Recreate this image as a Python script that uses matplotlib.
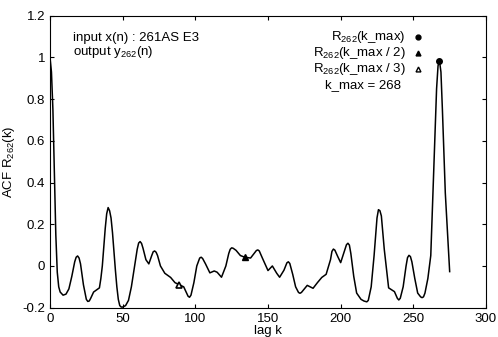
import numpy as np
import matplotlib
matplotlib.use("Agg")
import matplotlib.pyplot as plt

plt.rcParams['font.family'] = ['Liberation Sans', 'DejaVu Sans']
plt.rcParams['mathtext.fontset'] = 'custom'
plt.rcParams['mathtext.rm'] = 'Liberation Sans'
plt.rcParams['mathtext.default'] = 'regular'

# lag k and ACF values
lag = [0, 1, 2, 3, 4, 5, 6, 7, 9, 11, 13, 15, 17, 18, 19, 20, 21, 23, 25, 26,
       27, 28, 30, 32, 34, 35, 36, 37, 38, 39, 40, 41, 42, 43, 44, 45, 46, 47,
       48, 49, 50, 52, 54,
       56, 58, 60, 61, 62, 63, 64, 66, 68, 70, 71, 72, 73, 74, 76, 79, 83, 86,
       89, 92, 95, 96, 97, 99, 101, 103, 104, 105, 107, 110, 113, 115, 118,
       121, 123, 124, 125, 126, 128, 131, 134, 138, 141, 142, 143, 144, 146,
       150, 153, 156, 158, 161, 163, 164, 165, 167, 169, 171, 172, 173, 175,
       177, 179, 181, 184, 187, 190, 193, 194, 195, 196, 198, 200, 203, 204,
       205, 206, 207, 209, 211, 214, 216, 218, 219, 221, 223, 225, 226, 227,
       228, 230, 233, 237, 239, 240, 241, 243, 245, 246, 247, 248, 249, 251,
       253, 255, 256, 257, 258, 260, 262, 264, 266, 267, 268, 269, 270, 272,
       275]
acf = [1.0, 0.93, 0.75, 0.45, 0.15, -0.03, -0.10, -0.125, -0.14, -0.135,
       -0.11, -0.05, 0.02, 0.042, 0.048, 0.038, 0.01, -0.09, -0.16, -0.17,
       -0.168, -0.155, -0.125, -0.115, -0.105, -0.06, 0.0, 0.09, 0.18, 0.25,
       0.28, 0.265, 0.23, 0.16, 0.07, -0.02, -0.1, -0.16,
       -0.19, -0.197, -0.197, -0.19, -0.165, -0.10, -0.01,
       0.08, 0.11, 0.117, 0.108, 0.085, 0.03, 0.01, 0.05, 0.068, 0.072, 0.066,
       0.05, 0.0, -0.035, -0.055, -0.08, -0.09, -0.10, -0.145, -0.15, -0.14,
       -0.08, 0.0, 0.038, 0.042, 0.036, 0.01, -0.033, -0.024, -0.03, -0.054,
       0.0, 0.06, 0.08, 0.087, 0.085, 0.075, 0.05, 0.042, 0.038, 0.065, 0.074,
       0.077, 0.072, 0.04, -0.022, 0.0, -0.035, -0.054, -0.02, 0.015, 0.02,
       0.012, -0.04, -0.10, -0.127, -0.131, -0.127, -0.11, -0.093, -0.10,
       -0.107, -0.08, -0.055, -0.04, 0.03, 0.07, 0.081, 0.076, 0.045, 0.016,
       0.08, 0.102, 0.109, 0.1, 0.06, -0.05, -0.13, -0.16, -0.168, -0.172,
       -0.165, -0.1, 0.05, 0.23, 0.27, 0.265, 0.24, 0.08, -0.105, -0.123,
       -0.155, -0.163, -0.155, -0.1, 0.0, 0.04, 0.051, 0.045, 0.02, -0.06,
       -0.13, -0.148, -0.152, -0.148, -0.13, -0.06, 0.05, 0.45, 0.85, 0.96,
       0.983, 0.93, 0.75, 0.35, -0.027]

k_max = 268
xticks = [0, 50, 100, 150, 200, 250, 300]
yticks = [-0.2, 0, 0.2, 0.4, 0.6, 0.8, 1, 1.2]

fig = plt.figure(figsize=(4.98, 3.37), dpi=100)
ax = fig.add_axes([0.1004, 0.087, 0.8755, 0.8664])

ax.plot(lag, acf, color='black', lw=1.1, solid_joinstyle='round')

i1 = lag.index(k_max)
i2 = lag.index(k_max // 2)
i3 = lag.index(round(k_max / 3))
ax.plot(lag[i1], acf[i1], 'o', color='black', ms=4)
ax.plot(lag[i2], acf[i2], '^', color='black', ms=4)
ax.plot(lag[i3], acf[i3], '^', mfc='white', mec='black', mew=1.2, ms=4)

ax.set_xlim(0, 300)
ax.set_ylim(-0.2, 1.2)
ax.set_xticks(xticks)
ax.set_yticks(yticks)
ax.set_yticklabels(['%g' % v for v in yticks])
ax.tick_params(direction='in', top=True, right=True, labelsize=9.5, length=3)
ax.set_xlabel('lag k', fontsize=9.5, labelpad=0)
ax.set_ylabel('ACF R$_{262}$(k)', fontsize=9.5, labelpad=4)

fs = 9.5
ax.text(0.052, 0.925, 'input x(n) : 261AS E3', transform=ax.transAxes,
        fontsize=fs, va='center')
ax.text(0.052, 0.875, 'output y$_{262}$(n)', transform=ax.transAxes,
        fontsize=fs, va='center')

labels = ['R$_{262}$(k_max)', 'R$_{262}$(k_max / 2)', 'R$_{262}$(k_max / 3)']
rows = [0.927, 0.872, 0.817]
for lab, yy in zip(labels, rows):
    ax.text(0.8165, yy, lab, transform=ax.transAxes, fontsize=fs,
            ha='right', va='center')
ax.plot(0.844, rows[0], 'o', color='black', ms=3.5, transform=ax.transAxes)
ax.plot(0.844, rows[1], '^', color='black', ms=3.5, transform=ax.transAxes)
ax.plot(0.844, rows[2], '^', mfc='white', mec='black', mew=1.0, ms=3.5,
        transform=ax.transAxes)
ax.text(0.805, 0.762, 'k_max = %d' % k_max, transform=ax.transAxes,
        fontsize=fs, ha='right', va='center')

fig.savefig('out.png', dpi=100)
